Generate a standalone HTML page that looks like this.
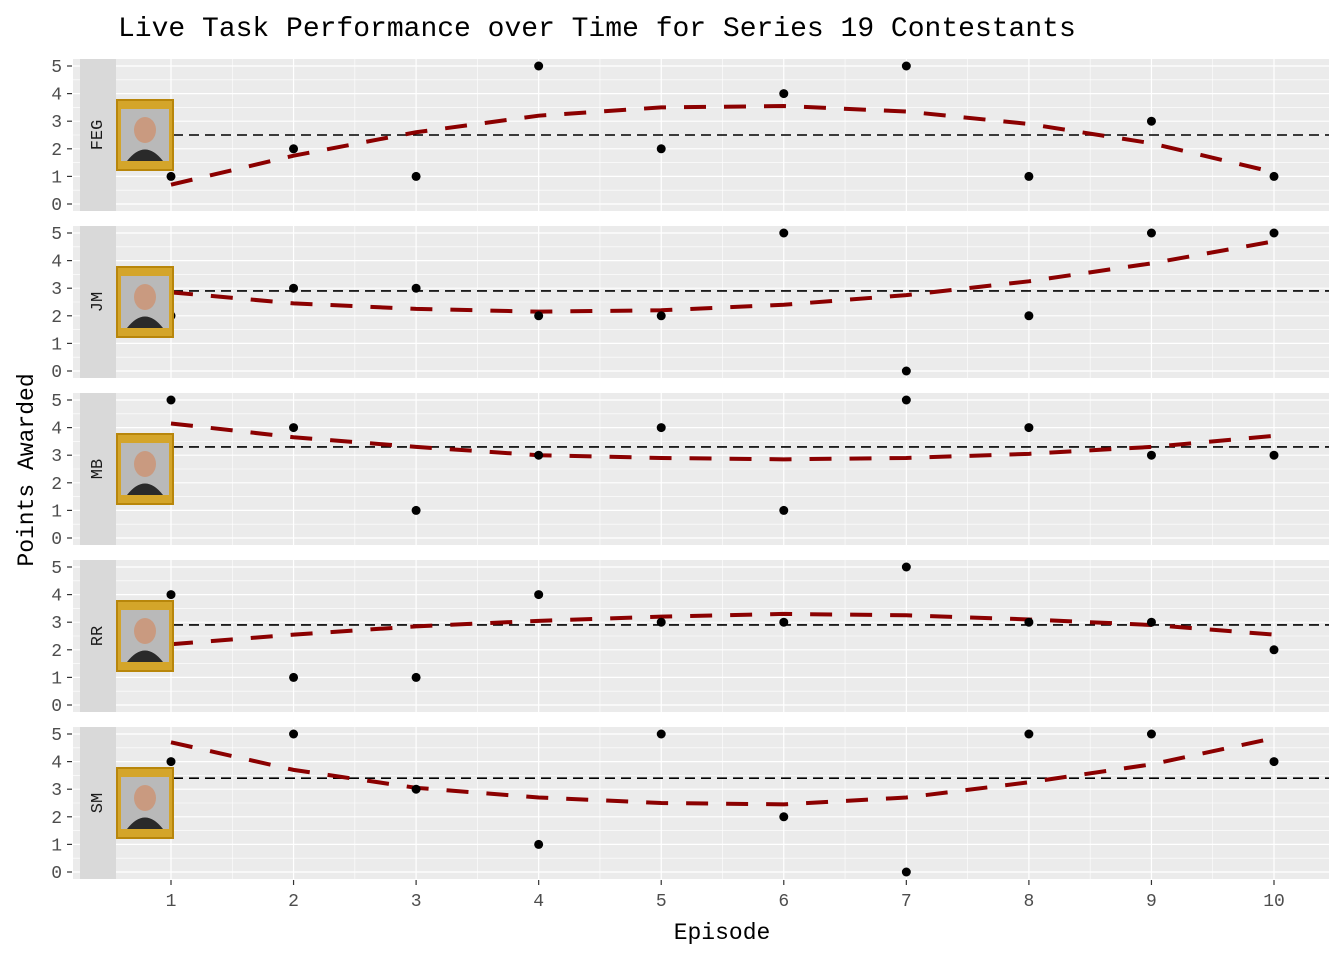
<!DOCTYPE html>
<html><head><meta charset="utf-8"><style>
body{margin:0;background:#fff;}
svg text{font-family:"Liberation Mono","DejaVu Sans Mono",monospace;}
</style></head><body>
<svg id="chart" width="1344" height="960" xmlns="http://www.w3.org/2000/svg">
<text x="118" y="36" font-size="28" fill="#000">Live Task Performance over Time for Series 19 Contestants</text>
<text x="722" y="939" font-size="23" text-anchor="middle" fill="#000">Episode</text>
<text transform="translate(33,470) rotate(-90)" font-size="23" text-anchor="middle" fill="#000">Points Awarded</text>
<g id="panels"></g>
</svg>
<script>
const contestants = ["FEG","JM","MB","RR","SM"];
const episodes = [1,2,3,4,5,6,7,8,9,10];
const pointsFEG = [1,2,1,5,2,4,5,1,3,1];
const pointsJM  = [2,3,3,2,2,5,0,2,5,5];
const pointsMB  = [5,4,1,3,4,1,5,4,3,3];
const pointsRR  = [4,1,1,4,3,3,5,3,3,2];
const pointsSM  = [4,5,3,1,5,2,0,5,5,4];
const trendFEG = [0.7,1.75,2.6,3.2,3.5,3.55,3.35,2.9,2.2,1.15];
const trendJM  = [2.85,2.45,2.25,2.15,2.2,2.4,2.75,3.25,3.9,4.7];
const trendMB  = [4.15,3.65,3.3,3.0,2.9,2.85,2.9,3.05,3.3,3.7];
const trendRR  = [2.2,2.55,2.85,3.05,3.2,3.3,3.25,3.1,2.9,2.55];
const trendSM  = [4.7,3.7,3.05,2.7,2.5,2.45,2.7,3.25,3.9,4.85];
const means = [2.5,2.9,3.3,2.9,3.4];
const yTicks = [0,1,2,3,4,5];
const xTicks = [1,2,3,4,5,6,7,8,9,10];

const allPoints=[pointsFEG,pointsJM,pointsMB,pointsRR,pointsSM];
const allTrends=[trendFEG,trendJM,trendMB,trendRR,trendSM];
const NS="http://www.w3.org/2000/svg";
const g=document.getElementById('panels');
const PL=73, PR=1329, PH=152, STEP=167, TOP0=59;
const xs=e=>171+(e-1)*(1274-171)/9;
function mk(t,a,p){const el=document.createElementNS(NS,t);for(const k in a)el.setAttribute(k,a[k]);(p||g).appendChild(el);return el;}
contestants.forEach((c,i)=>{
  const top=TOP0+i*STEP;
  const ys=v=>top+7+(5-v)*27.6;
  const pg=mk('g',{});
  
  
  const bg=mk('rect',{x:PL,y:top,width:PR-PL,height:PH,fill:'#ebebeb'},pg);
  
  
  for(let v=0.5;v<5;v+=1) mk('line',{x1:PL,x2:PR,y1:ys(v),y2:ys(v),stroke:'#fff','stroke-width':0.6},pg);
  for(let e=0.5;e<=10.5;e+=1) if(xs(e)>PL&&xs(e)<PR) mk('line',{x1:xs(e),x2:xs(e),y1:top,y2:top+PH,stroke:'#fff','stroke-width':0.6},pg);
  yTicks.forEach(v=>{
    mk('line',{x1:PL,x2:PR,y1:ys(v),y2:ys(v),stroke:'#fff','stroke-width':1.2},pg);
    mk('line',{x1:67,x2:72,y1:ys(v),y2:ys(v),stroke:'#333','stroke-width':1.2},pg);
    const t=mk('text',{x:62,y:ys(v)+6,'font-size':18,'text-anchor':'end',fill:'#4d4d4d'},pg);
    t.textContent=v;
    
    
  });
  xTicks.forEach(e=>mk('line',{x1:xs(e),x2:xs(e),y1:top,y2:top+PH,stroke:'#fff','stroke-width':1.2},pg));
  const st=mk('rect',{x:PL+7,y:top,width:36,height:PH,fill:'#d9d9d9'},pg);
  
  
  const lab=mk('text',{transform:`translate(${PL+29},${top+PH/2}) rotate(-90)`,'font-size':17,'text-anchor':'middle',fill:'#1a1a1a'},pg);
  lab.textContent=c;
  
  
  const ml=mk('line',{x1:173,x2:PR,y1:ys(means[i]),y2:ys(means[i]),stroke:'#000','stroke-width':1.6,'stroke-dasharray':'10,6'},pg);
  
  
  const d=allTrends[i].map((v,k)=>(k?'L':'M')+xs(episodes[k])+','+ys(v)).join(' ');
  const tr=mk('path',{d:d,fill:'none',stroke:'#8b0000','stroke-width':4,'stroke-dasharray':'22,18'},pg);
  
  
  allPoints[i].forEach((v,k)=>{
    const p=mk('circle',{cx:xs(episodes[k]),cy:ys(v),r:4.5,fill:'#000'},pg);
    
    
  });
  const fy=top+PH/2-35;
  const fr=mk('rect',{x:117,y:fy,width:56,height:70,fill:'#d4a52a',stroke:'#b8860b','stroke-width':2},pg);
  
  
  mk('rect',{x:121,y:fy+9,width:48,height:52,fill:'#b9b9b9'},pg);
  mk('ellipse',{cx:145,cy:fy+30,rx:11,ry:13,fill:'#c99a80'},pg);
  mk('path',{d:`M127,${fy+61} Q145,${fy+38} 163,${fy+61} Z`,fill:'#2a2a2a'},pg);
});
xTicks.forEach(e=>{
  mk('line',{x1:xs(e),x2:xs(e),y1:880,y2:885,stroke:'#333','stroke-width':1.2});
  const t=mk('text',{x:xs(e),y:906,'font-size':18,'text-anchor':'middle',fill:'#4d4d4d'});
  t.textContent=e;
  
  
});
</script>
</body></html>
